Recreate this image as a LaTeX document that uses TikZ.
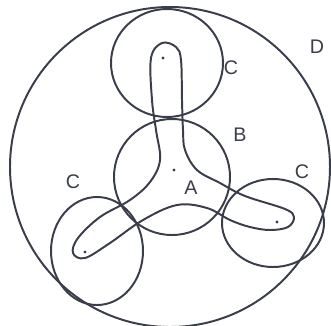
\documentclass[tikz,border=0pt]{standalone}
\usepackage{fontspec}
\setmainfont{Liberation Sans}
\usetikzlibrary{positioning}
\definecolor{pencil}{HTML}{3A3E4A}
\tikzset{
  ring/.style={draw=pencil, line width=1.4pt},
  blob/.style={draw=pencil, line width=1.4pt, line join=round},
  lbl/.style={text=pencil, font=\fontsize{14}{16}\selectfont, inner sep=0pt},
  spot/.style={circle, fill=pencil, inner sep=0pt, minimum size=2.2pt},
}

\begin{document}
\begin{tikzpicture}[x=0.025cm, y=-0.025cm]
  \useasboundingbox (0,0) rectangle (331,325);
  \clip (0,0) rectangle (331,325);

  % Sets
  \draw[ring] (170,167) circle [radius=160];
  \draw[ring] (172,177) circle [radius=58];
  \draw[ring] (167,63) ellipse [x radius=56, y radius=54];
  \draw[ring] (97,251) ellipse [x radius=46, y radius=54];
  \draw[ring] (273,223) ellipse [x radius=51, y radius=44];

  % Three-armed region A
  \draw[blob] plot[smooth cycle, tension=0.6] coordinates {
    (162,43) (176,47) (181,60) (182,100) (183,130) (185,150) (197,170)
    (220,183) (245,196) (285,209) (294,217) (288,227) (270,230) (250,227)
    (230,220) (207,208) (177,205) (143,220) (110,243) (85,258) (73,253)
    (78,238) (100,217) (130,200) (150,182) (160,160) (156,130) (152,100)
    (151,58)};

  % Points
  \node[spot] (pA) at (174,170) {};
  \node[spot] (pT) at (163,58) {};
  \node[spot] (pL) at (85,252) {};
  \node[spot] (pR) at (277,222) {};

  % Labels
  \node[lbl] (lD) at (317,47) {D};
  \node[lbl] (lB) at (240,135) {B};
  \node[lbl] (lA) at (191,188) {A};
  \node[lbl] (lCt) at (231,68) {C};
  \node[lbl] (lCl) at (73,182) {C};
  \node[lbl] (lCr) at (302,172) {C};
\end{tikzpicture}
\end{document}
